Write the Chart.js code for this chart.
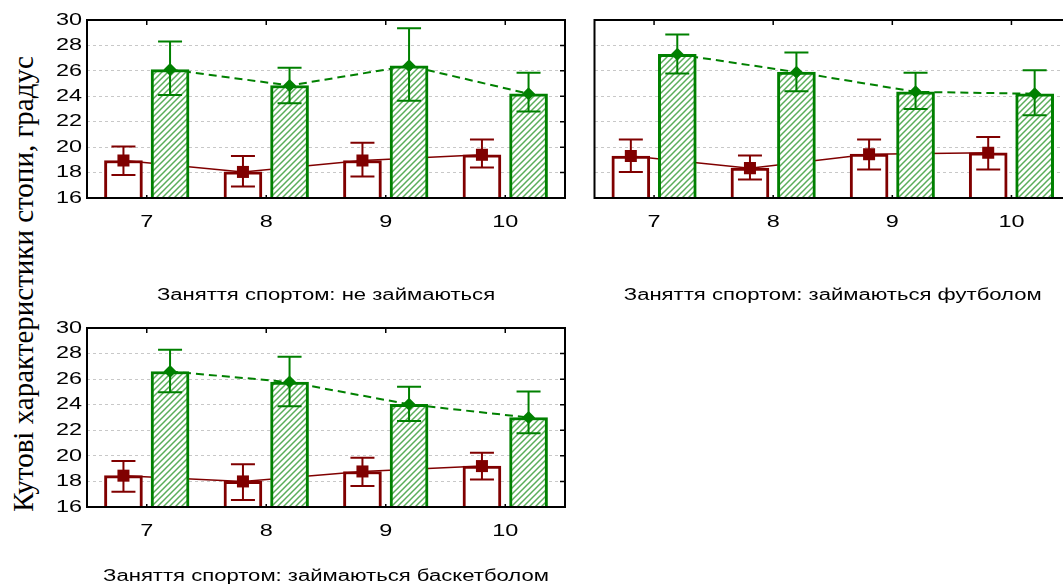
<!DOCTYPE html>
<html>
<head>
<meta charset="utf-8">
<script src="https://cdn.jsdelivr.net/npm/chart.js@4.4.0/dist/chart.umd.min.js"></script>
<style>
    body { margin: 0; width: 1063px; height: 585px; overflow: hidden; background: #fff; position: relative; }
    .panel { position: absolute; }
    #ytitle {
        position: absolute; left: 23px; top: 284px;
        transform: translate(-50%, -50%) rotate(-90deg);
        white-space: nowrap; font-family: "Liberation Serif", "Times New Roman", serif; font-size: 29px; color: #000;
    }
</style>
</head>
<body>
<div id="ytitle">Кутові характеристики стопи, градус</div>
<div class="panel" style="left:0;top:0;width:580px;height:310px"><canvas id="p1"></canvas></div>
<div class="panel" style="left:586px;top:0;width:500px;height:310px"><canvas id="p2"></canvas></div>
<div class="panel" style="left:0;top:310px;width:580px;height:290px"><canvas id="p3"></canvas></div>
<script>
/* Дані */
const ages = ['7', '8', '9', '10'];
const yMin = 16, yMax = 30, yStep = 2;

const titleNone = 'Заняття спортом: не займаються';
const titleFootball = 'Заняття спортом: займаються футболом';
const titleBasket = 'Заняття спортом: займаються баскетболом';

// не займаються
const noneRedMean = [18.95, 18.05, 18.95, 19.4];
const noneRedLow = [17.8, 16.9, 17.7, 18.4];
const noneRedHigh = [20.05, 19.3, 20.35, 20.6];
const noneGreenMean = [26.1, 24.85, 26.4, 24.2];
const noneGreenLow = [24.1, 23.45, 23.65, 22.8];
const noneGreenHigh = [28.3, 26.25, 29.35, 25.85];

// футбол
const footRedMean = [19.3, 18.35, 19.45, 19.55];
const footRedLow = [18.05, 17.45, 18.25, 18.25];
const footRedHigh = [20.6, 19.35, 20.6, 20.8];
const footGreenMean = [27.3, 25.9, 24.35, 24.2];
const footGreenLow = [25.8, 24.4, 23.0, 22.5];
const footGreenHigh = [28.85, 27.45, 25.85, 26.05];

// баскетбол
const baskRedMean = [18.45, 18.0, 18.78, 19.2];
const baskRedLow = [17.2, 16.55, 17.65, 18.15];
const baskRedHigh = [19.6, 19.35, 19.85, 20.25];
const baskGreenMean = [26.6, 25.77, 24.03, 23.0];
const baskGreenLow = [24.98, 23.88, 22.73, 21.76];
const baskGreenHigh = [28.3, 27.75, 25.4, 25.03];

const RED = '#800000';
const GREEN = '#008000';
const groupShift = 0.195;   // зсув стовпця від центру категорії
const barWidth = 38;

// штриховка для зелених стовпців
function hatch() {
    const c = document.createElement('canvas');
    c.width = 6; c.height = 6;
    const g = c.getContext('2d');
    g.fillStyle = '#fff';
    g.fillRect(0, 0, 6, 6);
    g.strokeStyle = '#5aad5a';
    g.lineWidth = 1.5;
    g.beginPath();
    g.moveTo(0, 6); g.lineTo(6, 0);
    g.moveTo(-3, 3); g.lineTo(3, -3);
    g.moveTo(3, 9); g.lineTo(9, 3);
    g.stroke();
    return g.createPattern(c, 'repeat');
}

/* Розтягнутий по горизонталі шрифт, як у оригіналі */
const wideText = {
    id: 'wideText',
    afterInit(chart, args, opts) {
        const ctx = chart.ctx;
        const fill = ctx.fillText.bind(ctx);
        ctx.fillText = (text, x, y) => {
            ctx.save();
            ctx.translate(x, y);
            ctx.scale(opts.stretch, 1);
            fill(text, 0, 0);
            ctx.restore();
        };
    }
};

/* Рамка, внутрішні риски та похибки */
const panelFrame = {
    id: 'panelFrame',
    afterDatasetsDraw(chart, args, opts) {
        const ctx = chart.ctx;
        const y = chart.scales.y;
        (opts.errors || []).forEach(e => {
            const meta = chart.getDatasetMeta(e.dataset);
            ctx.save();
            ctx.strokeStyle = e.color;
            ctx.lineWidth = 2;
            ctx.beginPath();
            meta.data.forEach((pt, i) => {
                const top = y.getPixelForValue(e.high[i]);
                const bot = y.getPixelForValue(e.low[i]);
                ctx.moveTo(pt.x, top); ctx.lineTo(pt.x, bot);
                ctx.moveTo(pt.x - 12, top); ctx.lineTo(pt.x + 12, top);
                ctx.moveTo(pt.x - 12, bot); ctx.lineTo(pt.x + 12, bot);
            });
            ctx.stroke();
            ctx.restore();
        });
    },
    afterDraw(chart) {
        const { ctx, chartArea: a, scales: { x, y } } = chart;
        ctx.save();
        ctx.strokeStyle = '#000';
        ctx.lineWidth = 2;
        ctx.strokeRect(a.left, a.top, a.right - a.left, a.bottom - a.top);
        ctx.lineWidth = 1.5;
        ctx.beginPath();
        x.ticks.forEach((t, i) => {
            const px = x.getPixelForTick(i);
            ctx.moveTo(px, a.top); ctx.lineTo(px, a.top + 5);
            ctx.moveTo(px, a.bottom); ctx.lineTo(px, a.bottom - 3);
        });
        y.ticks.forEach((t, i) => {
            const py = y.getPixelForTick(i);
            ctx.moveTo(a.right, py); ctx.lineTo(a.right - 5, py);
        });
        ctx.stroke();
        ctx.restore();
    }
};

function makePanel(id, title, red, green, layout) {
    const pts = (vals, shift) => vals.map((v, i) => ({ x: i + shift, y: v }));

    return new Chart(document.getElementById(id), {
        type: 'bar',
        data: {
            labels: ages,
            datasets: [
                // маркери (зверху)
                { type: 'line', xAxisID: 'xl', data: pts(red.mean, -groupShift), showLine: false,
                  pointStyle: 'rect', pointRadius: 8.5, pointBackgroundColor: RED, pointBorderWidth: 0, order: 0 },
                { type: 'line', xAxisID: 'xl', data: pts(green.mean, groupShift), showLine: false,
                  pointStyle: 'rectRot', pointRadius: 6.5, pointBackgroundColor: GREEN, pointBorderWidth: 0, order: 0 },
                // стовпці
                { xAxisID: 'xl', data: pts(red.mean, -groupShift), grouped: false, barThickness: barWidth,
                  backgroundColor: '#fff', borderColor: RED, borderWidth: 3, borderSkipped: false, order: 2 },
                { xAxisID: 'xl', data: pts(green.mean, groupShift), grouped: false, barThickness: barWidth,
                  backgroundColor: hatch(), borderColor: GREEN, borderWidth: 3, borderSkipped: false, order: 2 },
                // лінії (під стовпцями)
                { type: 'line', xAxisID: 'xl', data: pts(red.mean, -groupShift), borderColor: RED, borderWidth: 1.5,
                  pointRadius: 0, order: 3 },
                { type: 'line', xAxisID: 'xl', data: pts(green.mean, groupShift), borderColor: GREEN, borderWidth: 2,
                  borderDash: [8, 5], pointRadius: 0, order: 3 }
            ]
        },
        options: {
            responsive: true,
            maintainAspectRatio: false,
            animation: false,
            layout: { padding: { top: layout.top, right: 15, left: 0, bottom: 0 } },
            plugins: {
                legend: { display: false },
                tooltip: { enabled: false },
                wideText: { stretch: 1.38 },
                panelFrame: {
                    errors: [
                        { dataset: 0, low: red.low, high: red.high, color: RED },
                        { dataset: 1, low: green.low, high: green.high, color: GREEN }
                    ]
                }
            },
            scales: {
                x: {
                    grid: { display: false },
                    border: { display: false },
                    ticks: { color: '#000', font: { family: 'Liberation Sans', size: 17 }, padding: 6 },
                    title: {
                        display: true, text: title, color: '#000',
                        font: { family: 'Liberation Sans', size: 16 },
                        padding: { top: 0, bottom: layout.titlePad }
                    },
                    afterFit: s => { s.height = layout.xHeight; }
                },
                xl: {
                    type: 'linear', display: false, offset: false,
                    grid: { offset: false },
                    min: -0.5, max: ages.length - 0.5
                },
                y: {
                    min: yMin, max: yMax,
                    grid: { color: '#c8c8c8', lineWidth: 1, drawTicks: false },
                    border: { display: false, dash: [3, 3] },
                    ticks: {
                        stepSize: yStep, display: layout.yLabels, color: '#000', padding: 5,
                        font: { family: 'Liberation Sans', size: 17 }
                    },
                    afterFit: s => { s.width = layout.yWidth; }
                }
            }
        },
        plugins: [wideText, panelFrame]
    });
}

makePanel('p1', titleNone,
    { mean: noneRedMean, low: noneRedLow, high: noneRedHigh },
    { mean: noneGreenMean, low: noneGreenLow, high: noneGreenHigh },
    { top: 20, xHeight: 112, titlePad: 5, yWidth: 87, yLabels: true });

makePanel('p2', titleFootball,
    { mean: footRedMean, low: footRedLow, high: footRedHigh },
    { mean: footGreenMean, low: footGreenLow, high: footGreenHigh },
    { top: 20, xHeight: 112, titlePad: 5, yWidth: 5, yLabels: false });

makePanel('p3', titleBasket,
    { mean: baskRedMean, low: baskRedLow, high: baskRedHigh },
    { mean: baskGreenMean, low: baskGreenLow, high: baskGreenHigh },
    { top: 18, xHeight: 93, titlePad: 14, yWidth: 87, yLabels: true });
</script>
</body>
</html>
